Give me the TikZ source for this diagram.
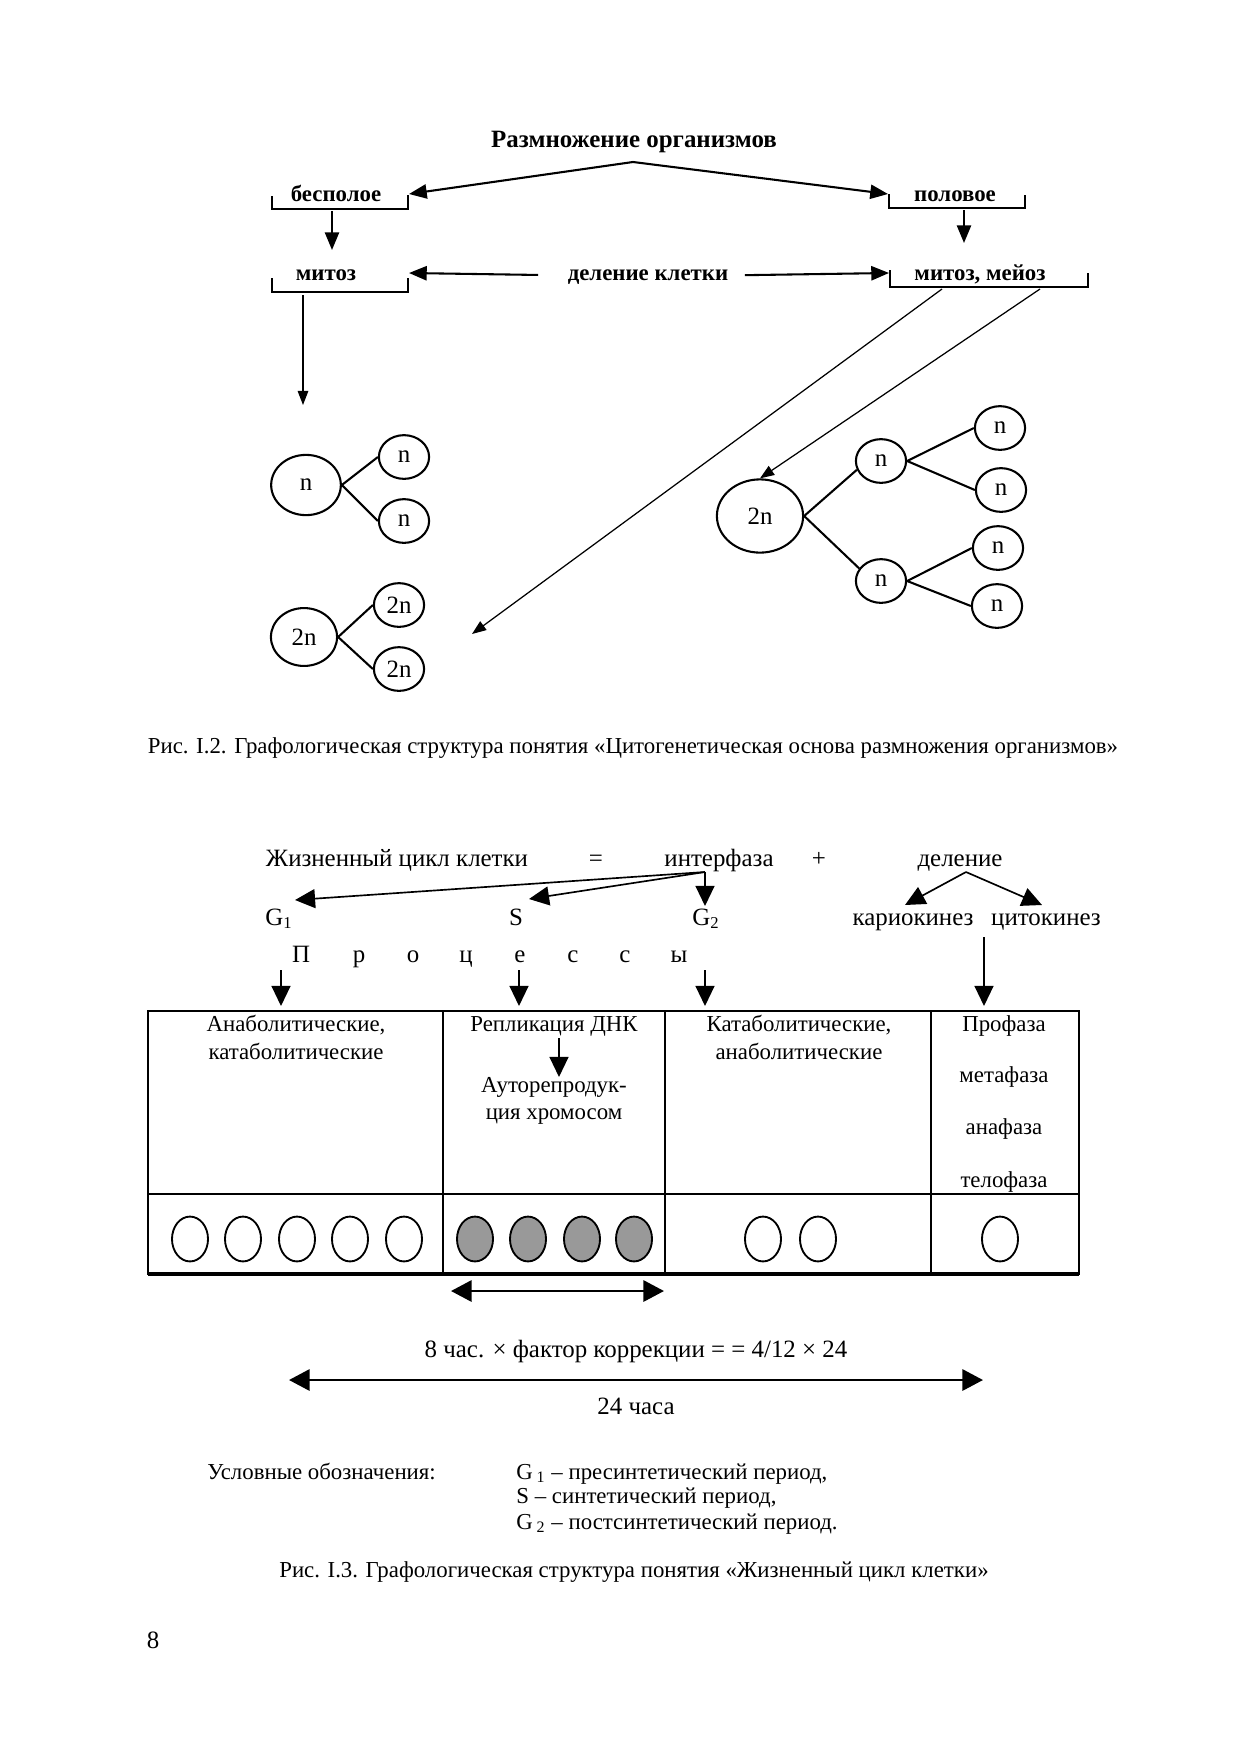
\documentclass[tikz,border=0pt]{standalone}
\usepackage{fontspec}
\setmainfont{Liberation Serif}
\usetikzlibrary{arrows.meta,shapes.geometric}

\begin{document}
\begin{tikzpicture}[
        x=0.16933mm, y=-0.16933mm,
        lbl/.style={font=\fontsize{11}{13}\selectfont\bfseries, anchor=base, inner sep=1pt},
        txt/.style={font=\fontsize{12}{14}\selectfont, anchor=base, inner sep=1pt},
        sml/.style={txt, font=\fontsize{11}{13}\selectfont},
        brk/.style={line width=1pt},
        cell/.style={draw, ellipse, line width=1pt, inner sep=0pt, minimum width=8.5mm, minimum height=7.4mm, font=\fontsize{12}{14}\selectfont},
        bigcell/.style={cell, minimum width=11.8mm, minimum height=10.2mm},
        link/.style={line width=1pt},
        arr/.style={-{Triangle[length=3mm, width=2.4mm]}, line width=1pt},
        longarr/.style={-{Triangle[length=2.4mm, width=1.8mm]}, line width=0.6pt},
        bigarr/.style={-{Triangle[length=3.4mm, width=3.2mm]}, line width=0.8pt},
        dbl/.style={{Triangle[length=3.5mm, width=3.6mm]}-{Triangle[length=3.5mm, width=3.6mm]}, line width=1.2pt},
        oval/.style={draw, ellipse, line width=0.9pt, minimum width=6.1mm, minimum height=7.6mm, inner sep=0pt},
    ]
    \fill[white] (0,0) rectangle (1240,1755);

    \node[lbl, font=\fontsize{12}{14}\selectfont\bfseries] (title) at (634,147) {Размножение организмов};
    \node[lbl] (asex) at (336,201) {бесполое};
    \node[lbl] (sex) at (955,201) {половое};
    \node[lbl] (mit) at (326,280) {митоз};
    \node[lbl] (celldiv) at (648,280) {деление клетки};
    \node[lbl] (mitmei) at (980,280) {митоз, мейоз};
    \draw[brk] (272,196) |- (408,209) -- (408,195);
    \draw[brk] (889,194) |- (1025,208) -- (1025,195);
    \draw[brk] (272,278) |- (408,292) -- (408,278);
    \draw[brk] (890,270) |- (1088,287) -- (1088,273);

    \coordinate (peak) at (633,162);
    \coordinate (asexR) at (409,194);
    \coordinate (sexL) at (888,194);
    \coordinate (asexB) at (332,211);
    \coordinate (mitT) at (332,250);
    \coordinate (sexB) at (964,210);
    \coordinate (mmT) at (964,243);
    \coordinate (mitR) at (409,273);
    \coordinate (mmL) at (889,273);
    \draw[arr] (peak) -- (asexR);
    \draw[arr] (peak) -- (sexL);
    \draw[arr] (asexB) -- (mitT);
    \draw[arr] (sexB) -- (mmT);
    \draw[arr, shorten <=4.6mm] (celldiv) -- (mitR);
    \draw[arr, shorten <=2.4mm] (celldiv) -- (mmL);

    \node[bigcell] (n0) at (306,485) {n};
    \node[cell] (n1) at (404,457) {n};
    \node[cell] (n2) at (404,521) {n};
    \draw[link] (n0.east) -- (n1.west);
    \draw[link] (n0.east) -- (n2.west);

    \node[bigcell, minimum width=11.2mm, minimum height=9.8mm] (d0) at (304,637) {2n};
    \node[cell] (d1) at (399,605) {2n};
    \node[cell] (d2) at (399,669) {2n};
    \draw[link] (d0.east) -- (d1.west);
    \draw[link] (d0.east) -- (d2.west);

    \node[bigcell, minimum width=14.6mm, minimum height=12.4mm] (m0) at (760,516) {2n};
    \node[cell] (m1) at (881,461) {n};
    \node[cell] (m2) at (881,581) {n};
    \node[cell] (m3) at (1000,428) {n};
    \node[cell] (m4) at (1001,490) {n};
    \node[cell] (m5) at (998,548) {n};
    \node[cell] (m6) at (997,606) {n};
    \draw[link] (m0.east) -- (m1.200);
    \draw[link] (m0.east) -- (m2.150);
    \draw[link] (m1.east) -- (m3.west);
    \draw[link] (m1.east) -- (m4.west);
    \draw[link] (m2.east) -- (m5.west);
    \draw[link] (m2.east) -- (m6.west);

    \coordinate (mitB) at (303,295);
    \coordinate (mitEnd) at (303,405);
    \coordinate (mmB1) at (942,289);
    \coordinate (mmB2) at (1040,289);
    \coordinate (toD) at (472,634);
    \draw[longarr] (mitB) -- (mitEnd);
    \draw[longarr] (mmB1) -- (toD);
    \draw[longarr] (mmB2) -- (m0.north);

    \node[sml] (cap1) at (633,753) {Рис. I.2. Графологическая структура понятия «Цитогенетическая основа размножения организмов»};

    \node[txt] (life) at (397,866) {Жизненный цикл клетки};
    \node[txt] (eq) at (596,866) {=};
    \node[txt] (inter) at (719,866) {интерфаза};
    \node[txt] (plus) at (819,866) {+};
    \node[txt] (div) at (960,866) {деление};
    \node[txt] (g1) at (279,925) {G\textsubscript{1}};
    \node[txt] (s) at (516,925) {S};
    \node[txt] (g2) at (706,925) {G\textsubscript{2}};
    \node[txt] (kar) at (913,925) {кариокинез};
    \node[txt] (cyt) at (1046,925) {цитокинез};

    \coordinate (interP) at (705,872);
    \coordinate (divP) at (966,872);
    \coordinate (g1T) at (295,900);
    \coordinate (sT) at (529,899);
    \coordinate (g2T) at (705,906);
    \coordinate (karT) at (905,905);
    \coordinate (cytT) at (1042,905);
    \draw[bigarr] (interP) -- (g1T);
    \draw[bigarr] (interP) -- (sT);
    \draw[bigarr] (interP) -- (g2T);
    \draw[bigarr] (divP) -- (karT);
    \draw[bigarr] (divP) -- (cytT);

    \foreach \ch/\x [count=\i] in {П/301,р/359,о/413,ц/466,е/520,с/573,с/625,ы/679}
        \node[txt] (proc\i) at (\x,962) {\ch};

    \foreach \x/\y [count=\i] in {281/970,519/970,705/970,984/937} {
        \coordinate (up\i) at (\x,\y);
        \coordinate (dn\i) at (\x,1006);
        \draw[bigarr] (up\i) -- (dn\i);
    }

    \draw[line width=0.9pt] (148,1011) rectangle (1079,1274);
    \draw[line width=0.9pt] (148,1194) -- (1079,1194);
    \foreach \x in {443,665,931}
        \draw[line width=0.9pt] (\x,1011) -- (\x,1274);
    \draw[line width=2pt] (148,1274) -- (1079,1274);

    \node[sml] (ana1) at (296,1031) {Анаболитические,};
    \node[sml] (ana2) at (296,1059) {катаболитические};
    \node[sml] (rep) at (554,1031) {Репликация ДНК};
    \node[sml] (auto1) at (554,1092) {Ауторепродук-};
    \node[sml] (auto2) at (554,1119) {ция хромосом};
    \coordinate (repB) at (559,1038);
    \coordinate (autoT) at (559,1077);
    \draw[bigarr] (repB) -- (autoT);
    \node[sml] (kat1) at (799,1031) {Катаболитические,};
    \node[sml] (kat2) at (799,1059) {анаболитические};
    \foreach \ph/\y [count=\i] in {Профаза/1031,метафаза/1082,анафаза/1134,телофаза/1187}
        \node[sml] (ph\i) at (1004,\y) {\ph};

    \foreach \x [count=\i] in {190,243,297,350,404}
        \node[oval] (ga\i) at (\x,1239) {};
    \foreach \x [count=\i] in {475,528,582,634}
        \node[oval, fill=gray!80] (sa\i) at (\x,1239) {};
    \foreach \x [count=\i] in {763,818}
        \node[oval] (gb\i) at (\x,1239) {};
    \node[oval] (ma1) at (1000,1239) {};

    \coordinate (sL) at (451,1291);
    \coordinate (sR) at (664,1291);
    \draw[dbl] (sL) -- (sR);
    \node[txt] (formula) at (636,1357) {8 час. × фактор коррекции = = 4/12 × 24};
    \coordinate (dayL) at (289,1380);
    \coordinate (dayR) at (983,1380);
    \draw[dbl] (dayL) -- (dayR);
    \node[txt] (day) at (636,1414) {24 часа};

    \node[sml, anchor=base west, inner sep=0pt] (leg) at (207,1479) {Условные обозначения:};
    \node[sml, anchor=base west, inner sep=0pt] (leg1) at (516,1479) {G\,\textsubscript{1} – пресинтетический период,};
    \node[sml, anchor=base west, inner sep=0pt] (leg2) at (516,1503) {S – синтетический период,};
    \node[sml, anchor=base west, inner sep=0pt] (leg3) at (516,1529) {G\,\textsubscript{2} – постсинтетический период.};

    \node[sml] (cap2) at (634,1577) {Рис. I.3. Графологическая структура понятия «Жизненный цикл клетки»};
    \node[txt] (pnum) at (153,1648) {8};
\end{tikzpicture}
\end{document}
